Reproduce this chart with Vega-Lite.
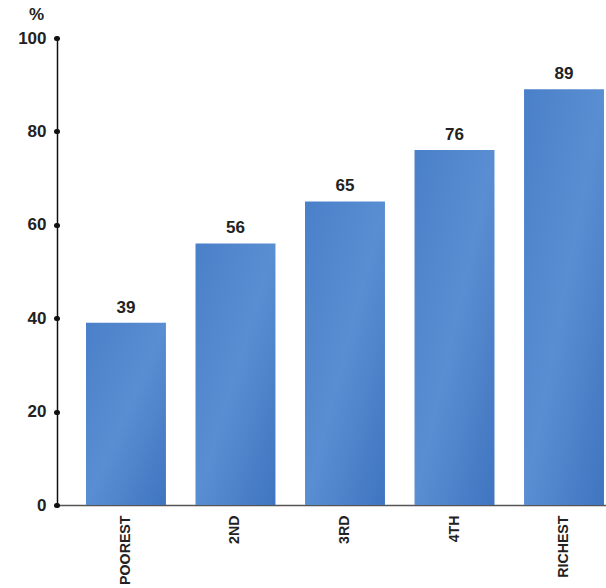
{
  "$schema": "https://vega.github.io/schema/vega-lite/v6.json",
  "autosize": "none",
  "width": 549,
  "height": 467,
  "padding": {"left": 57, "top": 38, "right": 0, "bottom": 83},
  "background": "white",
  "config": {"view": {"stroke": null}, "font": "Liberation Sans"},
  "data": {"values": [
    {"group": "POOREST", "value": 39},
    {"group": "2ND", "value": 56},
    {"group": "3RD", "value": 65},
    {"group": "4TH", "value": 76},
    {"group": "RICHEST", "value": 89}
  ]},
  "encoding": {
    "x": {"field": "group", "type": "nominal", "sort": null,
      "scale": {"paddingInner": 0.27, "paddingOuter": 0.1416, "align": 0.935},
      "axis": {"title": null, "labelAngle": -90, "labelAlign": "right", "labelBaseline": "middle",
        "labelFontSize": 14.2, "labelFontWeight": "bold", "labelColor": "#222", "labelPadding": 10,
        "ticks": false, "domainColor": "#555", "domainWidth": 1.5}},
    "y": {"field": "value", "type": "quantitative",
      "scale": {"domain": [0, 100]},
      "axis": {"values": [0, 20, 40, 60, 80, 100], "grid": false, "title": "%", "titleAngle": 0,
        "titleX": -21, "titleY": -24, "titleAlign": "center", "titleBaseline": "middle",
        "titleFontSize": 17, "titleFontWeight": "bold", "titleColor": "#222",
        "labelFontSize": 17, "labelFontWeight": "bold", "labelColor": "#222", "labelPadding": 10,
        "domainColor": "#111", "domainWidth": 1.5,
        "tickSize": 1, "tickWidth": 5, "tickCap": "round", "tickColor": "#111", "tickOffset": 0}}
  },
  "layer": [
    {"mark": {"type": "bar", "fill": {
      "gradient": "linear", "x1": 0, "y1": 0, "x2": 1, "y2": 1,
      "stops": [
        {"offset": 0, "color": "#4a80c9"},
        {"offset": 0.5, "color": "#5a8ed2"},
        {"offset": 1, "color": "#3f74c0"}
      ]}}},
    {"mark": {"type": "text", "baseline": "bottom", "dy": -6, "fontSize": 17, "fontWeight": "bold", "color": "#222"},
     "encoding": {"text": {"field": "value", "type": "quantitative"}}}
  ]
}
